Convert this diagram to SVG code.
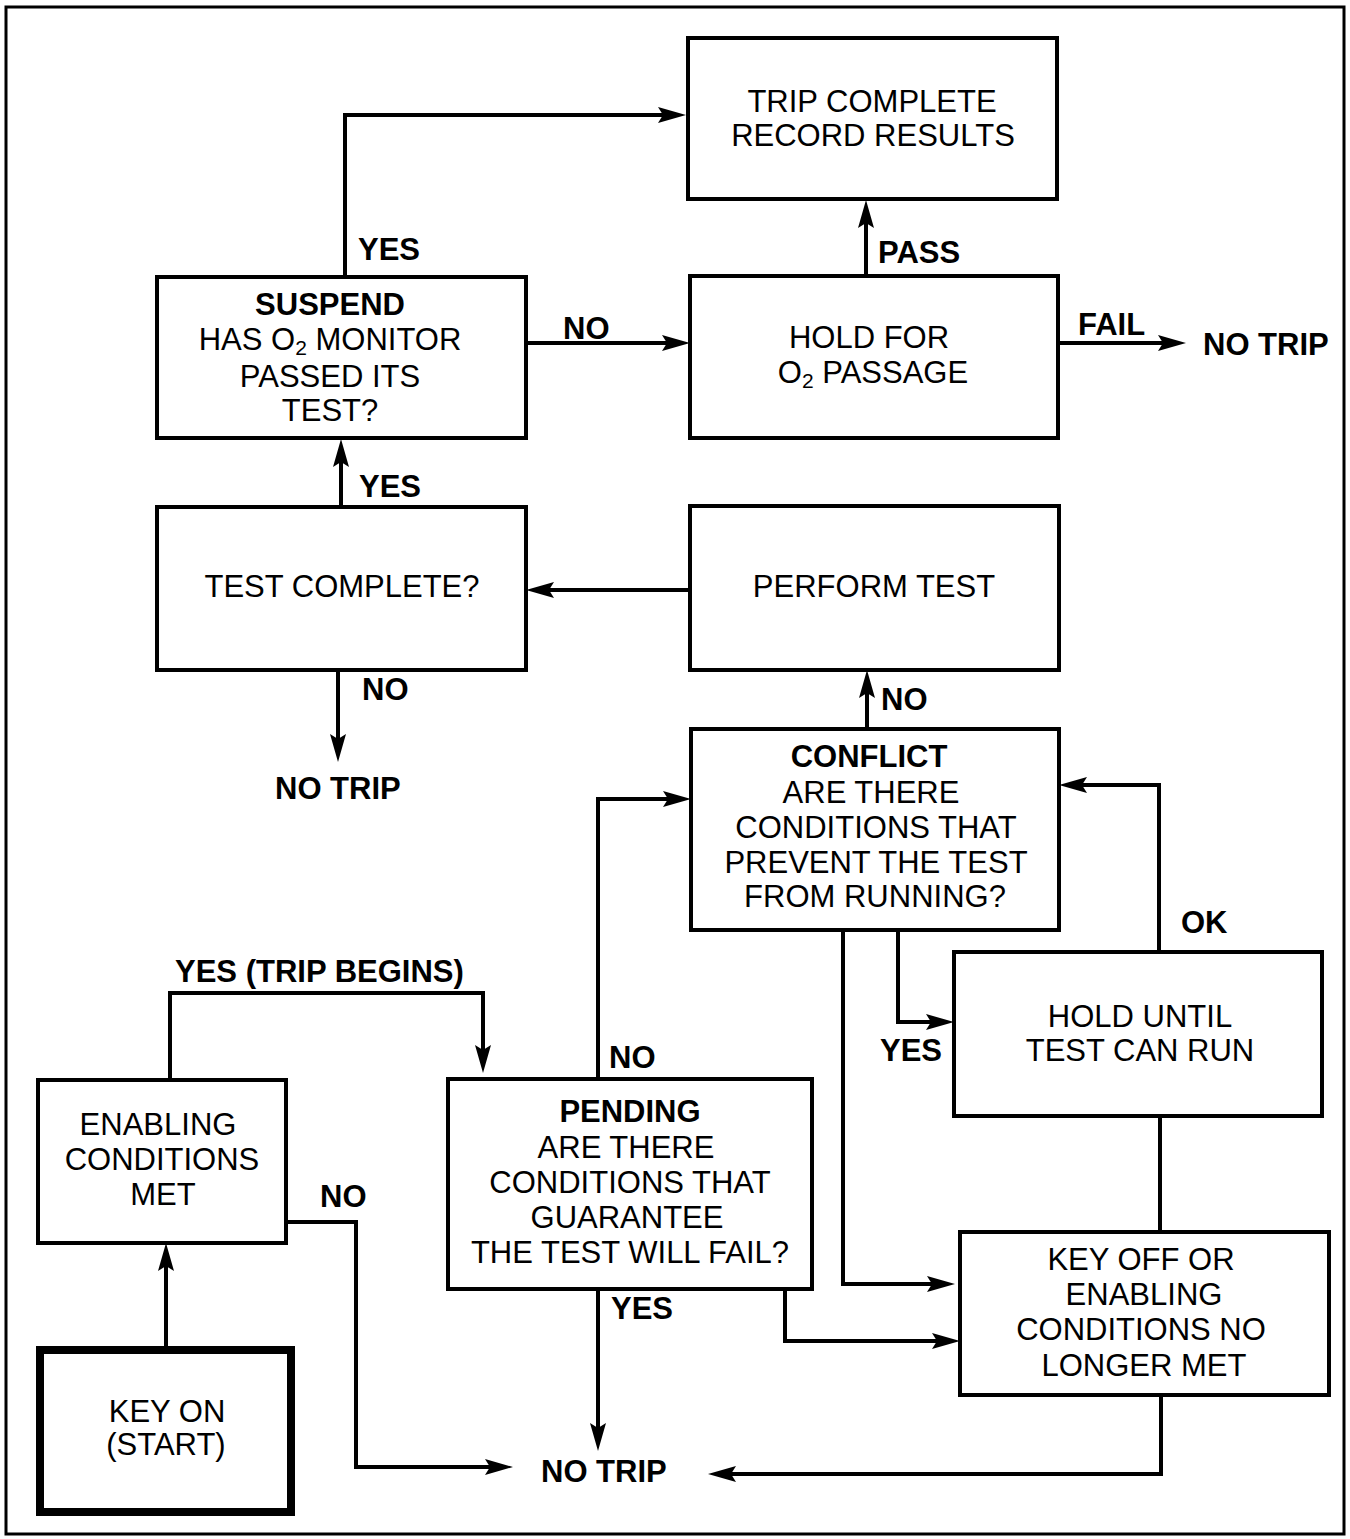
<svg xmlns="http://www.w3.org/2000/svg" width="1350" height="1539" viewBox="0 0 1350 1539">
<style>
.box{fill:#fff;stroke:#000;stroke-width:4}
.start{fill:#fff;stroke:#000;stroke-width:8}
.t{font-family:"Liberation Sans",Arial,Helvetica,sans-serif;font-size:31px;text-anchor:middle;fill:#000}
.b{font-weight:bold}
.l{font-family:"Liberation Sans",Arial,Helvetica,sans-serif;font-size:31px;font-weight:bold;fill:#000}
.c{fill:none;stroke:#000;stroke-width:4}
.ca{fill:none;stroke:#000;stroke-width:4;marker-end:url(#ah)}
.sub{font-size:21px}
</style>
<defs>
<marker id="ah" markerUnits="userSpaceOnUse" markerWidth="30" markerHeight="18" refX="18" refY="8" orient="auto">
<path d="M0,0 L28,8 L0,16 L5,8 z" fill="#000"/>
</marker>
</defs>
<rect x="0" y="0" width="1350" height="1539" fill="#fff"/>
<rect x="6" y="7" width="1338" height="1527" fill="none" stroke="#000" stroke-width="3"/>

<g id="connectors">
<path class="ca" d="M345,277 V115 H676"/>
<path class="ca" d="M526,343 H680"/>
<path class="ca" d="M866,276 V210"/>
<path class="ca" d="M1058,343 H1176"/>
<path class="ca" d="M341,507 V449"/>
<path class="ca" d="M690,590 H536"/>
<path class="ca" d="M338,670 V752"/>
<path class="ca" d="M867,729 V680"/>
<path class="ca" d="M598,1079 V799 H681"/>
<path class="ca" d="M1159,952 V785 H1069"/>
<path class="ca" d="M898,930 V1022 H944"/>
<path class="ca" d="M843,930 V1284 H945"/>
<path class="c" d="M1160,1116 V1232"/>
<path class="ca" d="M785,1289 V1341 H950"/>
<path class="ca" d="M598,1289 V1441"/>
<path class="ca" d="M1161,1395 V1474 H718"/>
<path class="ca" d="M286,1222 H356 V1467 H503"/>
<path class="ca" d="M170,1080 V993 H483 V1063"/>
<path class="ca" d="M166,1346 V1253"/>
</g>

<g id="labels">
<text class="l" x="358" y="260">YES</text>
<text class="l" x="563" y="339">NO</text>
<text class="l" x="878" y="263">PASS</text>
<text class="l" x="1078" y="335">FAIL</text>
<text class="l" x="1203" y="355">NO TRIP</text>
<text class="l" x="359" y="497">YES</text>
<text class="l" x="362" y="700">NO</text>
<text class="l" x="275" y="799">NO TRIP</text>
<text class="l" x="881" y="710">NO</text>
<text class="l" x="609" y="1068">NO</text>
<text class="l" x="1181" y="933">OK</text>
<text class="l" x="880" y="1061">YES</text>
<text class="l" x="611" y="1319">YES</text>
<text class="l" x="541" y="1482">NO TRIP</text>
<text class="l" x="320" y="1207">NO</text>
<text class="l" x="175" y="982">YES (TRIP BEGINS)</text>
</g>

<g id="trip-complete">
<rect class="box" x="688" y="38" width="369" height="161"/>
<text class="t" x="872" y="112">TRIP COMPLETE</text>
<text class="t" x="873" y="146">RECORD RESULTS</text>
</g>

<g id="suspend">
<rect class="box" x="157" y="277" width="369" height="161"/>
<text class="t b" x="330" y="315">SUSPEND</text>
<text class="t" x="330" y="350">HAS O<tspan class="sub" dy="5">2</tspan><tspan dy="-5"> MONITOR</tspan></text>
<text class="t" x="330" y="387">PASSED ITS</text>
<text class="t" x="330" y="421">TEST?</text>
</g>

<g id="hold-o2">
<rect class="box" x="690" y="276" width="368" height="162"/>
<text class="t" x="869" y="348">HOLD FOR</text>
<text class="t" x="873" y="383">O<tspan class="sub" dy="5">2</tspan><tspan dy="-5"> PASSAGE</tspan></text>
</g>

<g id="test-complete">
<rect class="box" x="157" y="507" width="369" height="163"/>
<text class="t" x="342" y="597">TEST COMPLETE?</text>
</g>

<g id="perform-test">
<rect class="box" x="690" y="506" width="369" height="164"/>
<text class="t" x="874" y="597">PERFORM TEST</text>
</g>

<g id="conflict">
<rect class="box" x="691" y="729" width="368" height="201"/>
<text class="t b" x="869" y="767">CONFLICT</text>
<text class="t" x="871" y="803">ARE THERE</text>
<text class="t" x="876" y="838">CONDITIONS THAT</text>
<text class="t" x="876" y="873">PREVENT THE TEST</text>
<text class="t" x="875" y="907">FROM RUNNING?</text>
</g>

<g id="hold-until">
<rect class="box" x="954" y="952" width="368" height="164"/>
<text class="t" x="1140" y="1027">HOLD UNTIL</text>
<text class="t" x="1140" y="1061">TEST CAN RUN</text>
</g>

<g id="key-off">
<rect class="box" x="960" y="1232" width="369" height="163"/>
<text class="t" x="1141" y="1270">KEY OFF OR</text>
<text class="t" x="1144" y="1305">ENABLING</text>
<text class="t" x="1141" y="1340">CONDITIONS NO</text>
<text class="t" x="1144" y="1376">LONGER MET</text>
</g>

<g id="pending">
<rect class="box" x="448" y="1079" width="364" height="210"/>
<text class="t b" x="630" y="1122">PENDING</text>
<text class="t" x="626" y="1158">ARE THERE</text>
<text class="t" x="630" y="1193">CONDITIONS THAT</text>
<text class="t" x="627" y="1228">GUARANTEE</text>
<text class="t" x="630" y="1263">THE TEST WILL FAIL?</text>
</g>

<g id="enabling">
<rect class="box" x="38" y="1080" width="248" height="163"/>
<text class="t" x="158" y="1135">ENABLING</text>
<text class="t" x="162" y="1170">CONDITIONS</text>
<text class="t" x="163" y="1205">MET</text>
</g>

<g id="key-on">
<rect class="start" x="40" y="1350" width="251" height="162"/>
<text class="t" x="167" y="1422">KEY ON</text>
<text class="t" x="166" y="1455">(START)</text>
</g>
</svg>
